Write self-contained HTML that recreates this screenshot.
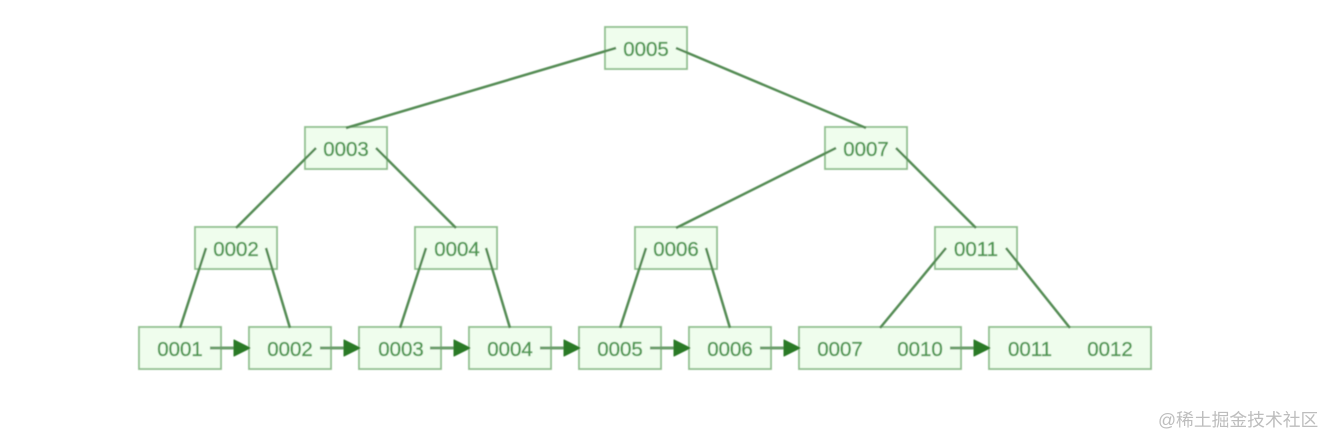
<!DOCTYPE html>
<html><head><meta charset="utf-8"><style>
html,body{margin:0;padding:0;background:#fff;width:1324px;height:436px;overflow:hidden}
svg{display:block}
.b rect{fill:#effded;stroke:#90bf8e;stroke-width:1.8}
.l line{stroke:#558c54;stroke-width:2.5;stroke-linecap:butt}
.a line{stroke:#6c9f6c;stroke-width:3}
.a path{fill:#2a7a26;stroke:#2a7a26;stroke-width:1;stroke-linejoin:round}
.t text{font-family:"Liberation Sans",sans-serif;font-size:20.5px;fill:#4f9852;stroke:#4f9852;stroke-width:.35;text-anchor:middle}
.w{font-family:"Liberation Sans","Noto Sans CJK SC",sans-serif;font-size:17.8px;fill:#bdbdbd}
</style></head><body>
<svg width="1324" height="436" viewBox="0 0 1324 436" xmlns="http://www.w3.org/2000/svg">
<defs><filter id="s" x="-5%" y="-5%" width="110%" height="110%"><feGaussianBlur stdDeviation="0.5"/></filter></defs>
<g filter="url(#s)">
<g class="b">
<rect x="605" y="27" width="82" height="42"/>
<rect x="305" y="127" width="82" height="42"/>
<rect x="825" y="127" width="82" height="42"/>
<rect x="195" y="227" width="82" height="42"/>
<rect x="415" y="227" width="82" height="42"/>
<rect x="635" y="227" width="82" height="42"/>
<rect x="935" y="227" width="82" height="42"/>
<rect x="139" y="327" width="82" height="42"/>
<rect x="249" y="327" width="82" height="42"/>
<rect x="359" y="327" width="82" height="42"/>
<rect x="469" y="327" width="82" height="42"/>
<rect x="579" y="327" width="82" height="42"/>
<rect x="689" y="327" width="82" height="42"/>
<rect x="799" y="327" width="162" height="42"/>
<rect x="989" y="327" width="162" height="42"/>
</g>
<g class="l">
<line x1="616" y1="48" x2="346" y2="128"/>
<line x1="676" y1="48" x2="866" y2="128"/>
<line x1="316" y1="148" x2="236" y2="228"/>
<line x1="376" y1="148" x2="456" y2="228"/>
<line x1="836" y1="148" x2="676" y2="228"/>
<line x1="896" y1="148" x2="976" y2="228"/>
<line x1="206" y1="248" x2="180" y2="328"/>
<line x1="266" y1="248" x2="290" y2="328"/>
<line x1="426" y1="248" x2="400" y2="328"/>
<line x1="486" y1="248" x2="510" y2="328"/>
<line x1="646" y1="248" x2="620" y2="328"/>
<line x1="706" y1="248" x2="730" y2="328"/>
<line x1="946" y1="248" x2="880" y2="328"/>
<line x1="1006" y1="248" x2="1070" y2="328"/>
</g>
<g class="a">
<line x1="210" y1="348" x2="236" y2="348"/><path d="M234 340L250 348L234 356Z"/>
<line x1="320" y1="348" x2="346" y2="348"/><path d="M344 340L360 348L344 356Z"/>
<line x1="430" y1="348" x2="456" y2="348"/><path d="M454 340L470 348L454 356Z"/>
<line x1="540" y1="348" x2="566" y2="348"/><path d="M564 340L580 348L564 356Z"/>
<line x1="650" y1="348" x2="676" y2="348"/><path d="M674 340L690 348L674 356Z"/>
<line x1="760" y1="348" x2="786" y2="348"/><path d="M784 340L800 348L784 356Z"/>
<line x1="950" y1="348" x2="976" y2="348"/><path d="M974 340L990 348L974 356Z"/>
</g>
<g class="t">
<text x="646" y="56">0005</text>
<text x="346" y="156">0003</text>
<text x="866" y="156">0007</text>
<text x="236" y="256">0002</text>
<text x="457" y="256">0004</text>
<text x="676" y="256">0006</text>
<text x="976" y="256">0011</text>
<text x="180" y="356">0001</text>
<text x="290" y="356">0002</text>
<text x="401" y="356">0003</text>
<text x="510" y="356">0004</text>
<text x="620" y="356">0005</text>
<text x="730" y="356">0006</text>
<text x="840" y="356">0007</text>
<text x="920" y="356">0010</text>
<text x="1030" y="356">0011</text>
<text x="1110" y="356">0012</text>
</g>
</g>
<text class="w" x="1158" y="426">@稀土掘金技术社区</text>
</svg>
</body></html>
